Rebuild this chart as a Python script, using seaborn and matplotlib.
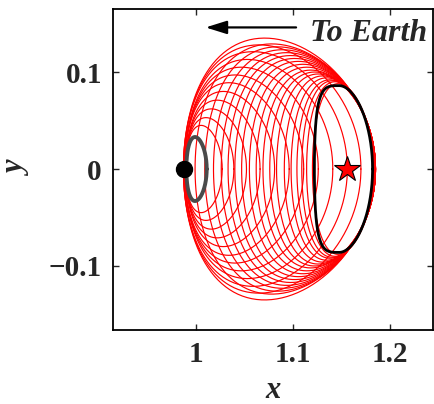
import numpy as np
import pandas as pd
import matplotlib
matplotlib.use('Agg')
import matplotlib.pyplot as plt
import seaborn as sns

# x-y projections of the orbit family:
# left edge, right edge and half height (in y) of each closed orbit
red_left = [0.987, 0.987, 0.987, 0.988, 0.988, 0.988, 0.988, 0.989, 0.989,
            0.989, 0.989, 0.989,
            0.999, 1.009, 1.018, 1.026, 1.033, 1.040, 1.047, 1.055, 1.062,
            1.069, 1.076, 1.083, 1.091, 1.098, 1.104, 1.109, 1.114, 1.120]
red_right = [1.184, 1.170, 1.156, 1.141, 1.126, 1.111, 1.096, 1.081, 1.066,
             1.052, 1.039, 1.027,
             1.185, 1.185, 1.185, 1.185, 1.185, 1.185, 1.185, 1.185, 1.185,
             1.185, 1.185, 1.184, 1.184, 1.184, 1.184, 1.183, 1.183, 1.182]
red_half_h = [0.135, 0.128, 0.121, 0.113, 0.105, 0.097, 0.089, 0.080, 0.071,
              0.062, 0.053, 0.045,
              0.129, 0.126, 0.123, 0.120, 0.117, 0.114, 0.111, 0.108, 0.105,
              0.102, 0.100, 0.098, 0.096, 0.094, 0.092, 0.091, 0.090, 0.088]

# end members of the family
l2_orbit = (1.122, 1.182, 0.086)     # black
moon_orbit = (0.990, 1.011, 0.033)   # gray

moon_x = 0.98785
l2_x = 1.1557


def orbit_xy(xl, xr, h, skew=0.15, flat=1.0, n=240):
    t = np.linspace(0, 2 * np.pi, n)
    c = (xl + xr) / 2
    a = (xr - xl) / 2
    ct = np.cos(t)
    ct = np.where(ct < 0, -np.abs(ct) ** flat, ct)
    x = c + a * ct - skew * a * np.sin(t) ** 2
    y = h * np.sin(t)
    return x, y


rows = []
for i, (xl, xr, h) in enumerate(zip(red_left, red_right, red_half_h)):
    x, y = orbit_xy(xl, xr, h)
    rows.append(pd.DataFrame({'x': x, 'y': y, 'orbit': i}))
df = pd.concat(rows, ignore_index=True)

sns.set_style('ticks')
plt.rcParams['font.family'] = ['Liberation Serif', 'DejaVu Serif']

fig = plt.figure(figsize=(4.34, 4.04), dpi=100)
ax = fig.add_axes([113 / 434, 1 - 330 / 404, 320 / 434, 321 / 404])

sns.lineplot(data=df, x='x', y='y', units='orbit', estimator=None, sort=False,
             color='red', linewidth=0.85, ax=ax, legend=False)

gx, gy = orbit_xy(*moon_orbit)
ax.plot(gx, gy, color='#4a4a4a', linewidth=2.8, zorder=3)
bx, by = orbit_xy(*l2_orbit, flat=0.55)
ax.plot(bx, by, color='black', linewidth=2.0, zorder=3)

ax.plot([moon_x], [0], 'o', color='black', markersize=11.5, zorder=4)
ax.plot([l2_x], [0], '*', color='red', markeredgecolor='black',
        markeredgewidth=0.8, markersize=19, zorder=5)

ax.annotate('', xy=(1.007, 0.146), xytext=(1.106, 0.146),
            arrowprops=dict(arrowstyle='-|>,head_width=0.25,head_length=0.8',
                            color='black', lw=1.6, mutation_scale=16))
ax.text(1.238, 0.140, 'To Earth', ha='right', va='center', fontsize=23,
        fontweight='bold', fontstyle='italic')

ax.set_xlim(0.9144, 1.2443)
ax.set_ylim(-0.166, 0.165)
ax.set_xticks([1, 1.1, 1.2])
ax.set_xticklabels(['1', '1.1', '1.2'])
ax.set_yticks([-0.1, 0, 0.1])
ax.set_yticklabels(['\u22120.1', '0', '0.1'])
ax.tick_params(direction='in', length=4, width=1, top=True, right=True,
               labelsize=21, pad=8)
for lab in ax.get_xticklabels() + ax.get_yticklabels():
    lab.set_fontweight('bold')
for sp in ax.spines.values():
    sp.set_linewidth(1.3)
    sp.set_color('black')

ax.set_xlabel('x', fontsize=22, fontweight='bold', fontstyle='italic',
              labelpad=6)
ax.set_ylabel('y', fontsize=22, fontweight='bold', fontstyle='italic',
              labelpad=12)

fig.savefig('out.png', dpi=100)
